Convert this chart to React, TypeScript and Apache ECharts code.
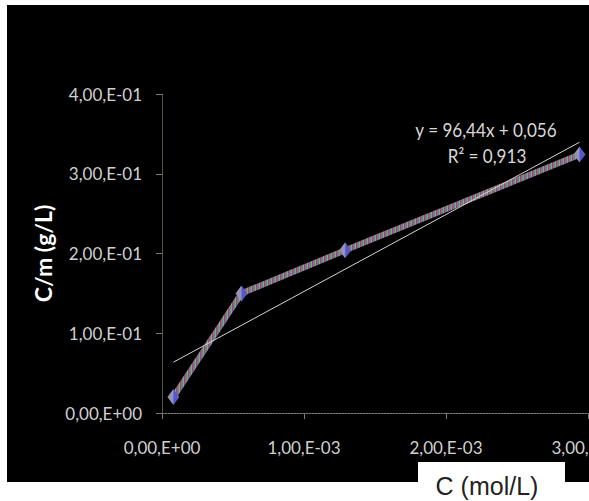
import React, { useEffect, useRef } from "react";
import * as echarts from "echarts";

const concentration = [0.00008, 0.00056, 0.00129, 0.00294];
const cOverM = [0.02, 0.15, 0.204, 0.324];
const trendX = [0.00008, 0.00294];
const trendY = [0.0637, 0.3395];
const equationText = "y = 96,44x + 0,056";
const r2Text = "R² = 0,913";
const xAxisTitle = "C (mol/L)";
const yAxisTitle = "C/m (g/L)";

function sci(v: number): string {
  const s = v.toExponential(2);
  const [m, e] = s.split("e");
  const n = parseInt(e, 10);
  const sign = n < 0 ? "-" : "+";
  const abs = Math.abs(n);
  return m.replace(".", ",") + ",E" + sign + (abs < 10 ? "0" + abs : String(abs));
}

function makeStripes(): any {
  const c = document.createElement("canvas");
  c.width = 4;
  c.height = 4;
  const ctx = c.getContext("2d");
  const cols = ["#4a5ad8", "#e05040", "#48a048", "#a090b0"];
  if (ctx) {
    cols.forEach((col, i) => {
      ctx.fillStyle = col;
      ctx.fillRect(i, 0, 1, 4);
    });
  }
  return { image: c, repeat: "repeat" };
}

export default function App() {
  const ref = useRef<HTMLDivElement>(null);
  useEffect(() => {
    if (!ref.current) return;
    const chart = echarts.init(ref.current, undefined, { renderer: "svg" });
    const stripes = makeStripes();
    const font = "Lato, 'Open Sans', sans-serif";
    chart.setOption({
      animation: false,
      backgroundColor: "#ffffff",
      grid: {
        left: 162,
        top: 94,
        right: 1,
        bottom: 88,
        containLabel: false,
        outerBoundsMode: "none",
      },
      xAxis: {
        type: "value",
        min: 0,
        max: 0.003,
        interval: 0.001,
        axisLine: { show: true, lineStyle: { color: "#7a7a7a", width: 1, type: [2, 1] } },
        axisTick: { show: true, length: 6, inside: false, lineStyle: { color: "#7a7a7a" } },
        splitLine: { show: false },
        axisLabel: {
          color: "#d0d0d0",
          fontFamily: font,
          fontSize: 17,
          margin: 26,
          hideOverlap: false,
          formatter: (v: number) => sci(v),
        },
      },
      yAxis: {
        type: "value",
        min: 0,
        max: 0.4,
        interval: 0.1,
        name: yAxisTitle,
        nameLocation: "middle",
        nameGap: 108,
        nameTextStyle: { color: "#ffffff", fontFamily: font, fontWeight: "bold", fontSize: 23 },
        axisLine: { show: true, lineStyle: { color: "#4e5a44", width: 1 } },
        axisTick: { show: true, length: 6, inside: false, lineStyle: { color: "#7a7a7a" } },
        splitLine: { show: false },
        axisLabel: {
          color: "#d0d0d0",
          fontFamily: font,
          fontSize: 17,
          margin: 20,
          formatter: (v: number) => sci(v),
        },
      },
      graphic: [
        {
          type: "rect",
          z: -100,
          shape: { x: 7, y: 5, width: 582, height: 477 },
          style: { fill: "#000000" },
          silent: true,
        },
        {
          type: "text",
          z: 100,
          x: 486,
          y: 130,
          scaleX: 0.9,
          style: {
            text: equationText,
            fill: "#d8d8d8",
            font: "19px Lato, sans-serif",
            align: "center",
            verticalAlign: "middle",
          },
        },
        {
          type: "text",
          z: 100,
          x: 487,
          y: 156,
          scaleX: 0.9,
          style: {
            text: r2Text,
            fill: "#d8d8d8",
            font: "19px Lato, sans-serif",
            align: "center",
            verticalAlign: "middle",
          },
        },
        {
          type: "rect",
          z: 100,
          shape: { x: 418, y: 462, width: 147, height: 39 },
          style: { fill: "#ffffff" },
        },
        {
          type: "text",
          z: 101,
          x: 487,
          y: 498,
          style: {
            text: xAxisTitle,
            fill: "#222222",
            font: "25px 'Liberation Sans', Arial, sans-serif",
            align: "center",
            verticalAlign: "bottom",
          },
        },
      ],
      series: [
        {
          type: "line",
          data: trendX.map((x, i) => [x, trendY[i]]),
          showSymbol: false,
          symbol: "none",
          lineStyle: { color: "#d4d4d4", width: 1 },
          z: 3,
          silent: true,
        },
        {
          type: "line",
          data: concentration.map((x, i) => [x, cOverM[i]]),
          symbol: "diamond",
          symbolSize: [12, 16],
          showSymbol: true,
          lineStyle: { color: stripes, width: 6 },
          itemStyle: { color: stripes, borderWidth: 0 },
          z: 2,
          silent: true,
        },
      ],
    });
    return () => chart.dispose();
  }, []);
  return (
    <div
      ref={ref}
      style={{ position: "fixed", left: 0, top: 0, width: 589, height: 501 }}
    />
  );
}
